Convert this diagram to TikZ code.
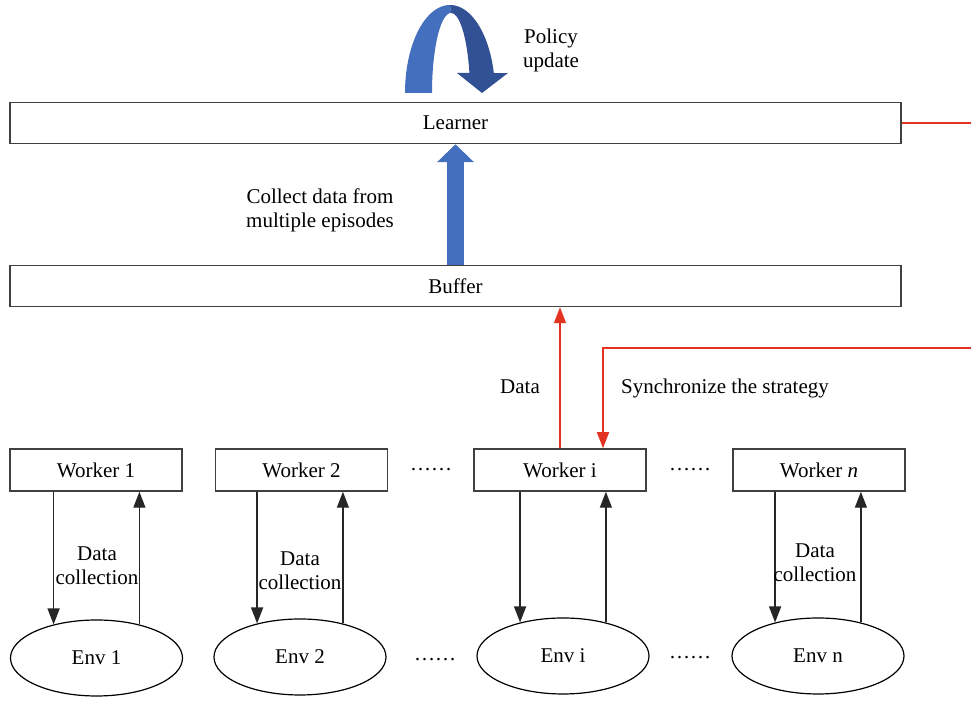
\documentclass[tikz,border=0pt]{standalone}
\usepackage{fontspec}
\setmainfont{Liberation Serif}
\usetikzlibrary{arrows.meta,shapes.geometric}
\definecolor{boxgray}{RGB}{64,64,64}
\definecolor{arcblue}{RGB}{68,110,190}
\definecolor{arcdark}{RGB}{50,80,148}
\definecolor{syncred}{RGB}{226,50,34}

\begin{document}
\begin{tikzpicture}[x=0.5pt, y=-0.5pt,
    every node/.style={font=\fontsize{10.5}{12}\selectfont},
    wide/.style={draw=boxgray, line width=0.75pt, minimum width=445.5pt, minimum height=20.5pt, inner sep=0pt},
    worker/.style={draw=boxgray, line width=0.75pt, minimum width=86pt, minimum height=21pt, inner sep=0pt},
    env/.style={draw=black, line width=0.6pt, ellipse, minimum width=86pt, minimum height=38pt, inner sep=0pt},
    blk/.style={draw=black!85, line width=0.7pt, -{Triangle[length=8pt,width=6pt]}},
    rd/.style={draw=syncred, line width=0.75pt, -{Triangle[length=8pt,width=6pt]}},
    lbl/.style={align=center, inner sep=0pt}]
    \useasboundingbox (0,0) rectangle (971,704);

    \node[wide] (learner) at (455.5,123) {Learner};
    \node[wide] (buffer) at (455.5,286) {Buffer};

    \node[worker] (w1) at (96,470) {Worker 1};
    \node[worker] (w2) at (301.5,470) {Worker 2};
    \node[worker] (wi) at (560,470) {Worker i};
    \node[worker] (wn) at (819,470) {Worker \textit{n}};
    \node (wdots1) at (431,470) {……};
    \node (wdots2) at (690,470) {……};

    \node[env] (e1) at (96.5,658) {Env 1};
    \node[env] (e2) at (300,657) {Env 2};
    \node[env] (ei) at (563,656) {Env i};
    \node[env] (en) at (818,656) {Env n};
    \node (edots1) at (435,660) {……};
    \node (edots2) at (690,658) {……};

    \foreach \w/\e in {w1/e1, w2/e2, wi/ei, wn/en} {
        \draw[blk] (\e.142 |- \w.south) -- (\e.142);
        \draw[blk] (\e.38) -- (\e.38 |- \w.south);
    }
    \node[lbl] (dc1) at (97,566) {Data\\collection};
    \node[lbl] (dc2) at (300,571) {Data\\collection};
    \node[lbl] (dcn) at (815,563) {Data\\collection};

    % buffer -> learner
    \draw[arcblue, line width=8.5pt, -{Triangle[length=9pt,width=18pt]}] (buffer.north) -- (learner.south);
    \node[lbl] (collectlbl) at (320,210) {Collect data from\\multiple episodes};

    % policy update
    \fill[arcblue] plot[domain=180:90, samples=40] ({450+45*cos(\x)},{93-88*sin(\x)})
        -- plot[domain=90:180, samples=40] ({451+19*cos(\x)},{93-80*sin(\x)}) -- cycle;
    \fill[arcdark] plot[domain=90:13, samples=40] ({450+45*cos(\x)},{93-88*sin(\x)})
        -- (508,73) -- (482,93) -- (457,73)
        -- plot[domain=14.5:90, samples=40] ({451+19*cos(\x)},{93-80*sin(\x)}) -- cycle;
    \node[lbl] (policylbl) at (551,50) {Policy\\update};

    % red links
    \coordinate (redout) at (971,123);
    \coordinate (syncin) at (971,348);
    \coordinate (synccorner) at (603,348);
    \draw[syncred, line width=0.75pt] (learner.east) -- (redout);
    \draw[rd] (syncin) -- (synccorner) -- (synccorner |- wi.north);
    \draw[rd] (wi.north) -- (buffer.south -| wi.north);
    \node (datalbl) at (520,387) {Data};
    \node (synclbl) at (725,388) {Synchronize the strategy};
\end{tikzpicture}
\end{document}
